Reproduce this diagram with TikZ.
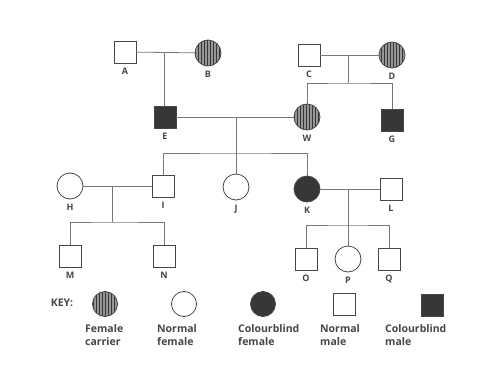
\documentclass[tikz,border=0pt]{standalone}
\usepackage{fontspec}
\setmainfont{Open Sans}
\usepackage{tikz}
\usetikzlibrary{positioning,patterns}
\definecolor{Ink}{RGB}{70,70,70}
\definecolor{Wire}{RGB}{120,120,120}
\definecolor{Dark}{RGB}{55,55,55}
\definecolor{Stripe}{RGB}{150,150,150}
\tikzset{
  male/.style={draw=Ink,line width=0.8pt,fill=white,minimum size=22pt,inner sep=0pt},
  female/.style={circle,draw=Ink,line width=0.8pt,fill=white,minimum size=26pt,inner sep=0pt},
  cbmale/.style={male,fill=Dark},
  cbfemale/.style={female,fill=Dark},
  carrier/.style={female,preaction={fill=Stripe},pattern=vertical lines,pattern color=Dark},
  pname/.style={font=\bfseries\fontsize{9}{10}\selectfont,text=Ink,inner sep=1pt},
  keytxt/.style={font=\bfseries\fontsize{10.5}{13}\selectfont,text=Ink,align=left,inner sep=0pt},
  wire/.style={draw=Wire,line width=0.8pt}
}
\begin{document}
\begin{tikzpicture}[x=1pt,y=-1pt,node distance=2pt]
\fill[white] (0,0) rectangle (491,389);
\useasboundingbox (0,0) rectangle (491,389);
% grandparents
\node[male] (A) at (125,52) {};
\node[carrier] (B) at (208,53) {};
\node[male] (C) at (309,55) {};
\node[carrier] (D) at (392,55) {};
% parents
\node[cbmale] (E) at (165,117) {};
\node[carrier] (W) at (307,117) {};
\node[cbmale] (G) at (392,120) {};
% children
\node[female] (H) at (70,186) {};
\node[male] (I) at (163,186) {};
\node[female] (J) at (236,187) {};
\node[cbfemale] (K) at (307,189) {};
\node[male] (L) at (391,189) {};
% grandchildren
\node[male] (M) at (70,256) {};
\node[male] (N) at (164,256) {};
\node[male] (O) at (306,259) {};
\node[female] (P) at (348,259) {};
\node[male] (Q) at (389,259) {};
% names
\foreach \p in {A,B,C,D,E,W,G,H,I,J,K,L,M,N,O,P,Q}
  \node[pname,below=3pt of \p] (\p-n) {\p};
% couples and sibships
\coordinate (ab) at (164,52);
\coordinate (cd) at (348,55);
\coordinate (cd-bar) at (348,83);
\coordinate (ew) at (236,117);
\coordinate (ew-bar) at (236,153);
\coordinate (hi) at (112,186);
\coordinate (hi-bar) at (112,222);
\coordinate (kl) at (348,189);
\coordinate (kl-bar) at (348,225);
\draw[wire] (A)--(B); \draw[wire] (ab)--(ab |- E.north);
\draw[wire] (C)--(D); \draw[wire] (cd)--(cd-bar);
\draw[wire] (W.north) |- (cd-bar) -| (G.north);
\draw[wire] (E)--(W); \draw[wire] (ew)--(J.north);
\draw[wire] (I.north) |- (ew-bar) -| (K.north);
\draw[wire] (H)--(I); \draw[wire] (hi)--(hi-bar);
\draw[wire] (M.north) |- (hi-bar) -| (N.north);
\draw[wire] (K)--(L); \draw[wire] (kl)--(P.north);
\draw[wire] (O.north) |- (kl-bar) -| (Q.north);
% key
\node[keytxt] (key) at (62,303) {KEY:};
\node[carrier,minimum size=25pt] (k1) at (105,304) {};
\node[female,minimum size=25pt] (k2) at (184,304) {};
\node[cbfemale,minimum size=25pt] (k3) at (263,304) {};
\node[male] (k4) at (344,304) {};
\node[cbmale] (k5) at (432,305) {};
\node[keytxt,anchor=north west] (k1-t) at (85,324) {Female\\carrier};
\node[keytxt,anchor=north west] (k2-t) at (157,324) {Normal\\female};
\node[keytxt,anchor=north west] (k3-t) at (238,324) {Colourblind\\female};
\node[keytxt,anchor=north west] (k4-t) at (320,324) {Normal\\male};
\node[keytxt,anchor=north west] (k5-t) at (385,324) {Colourblind\\male};
\end{tikzpicture}
\end{document}
